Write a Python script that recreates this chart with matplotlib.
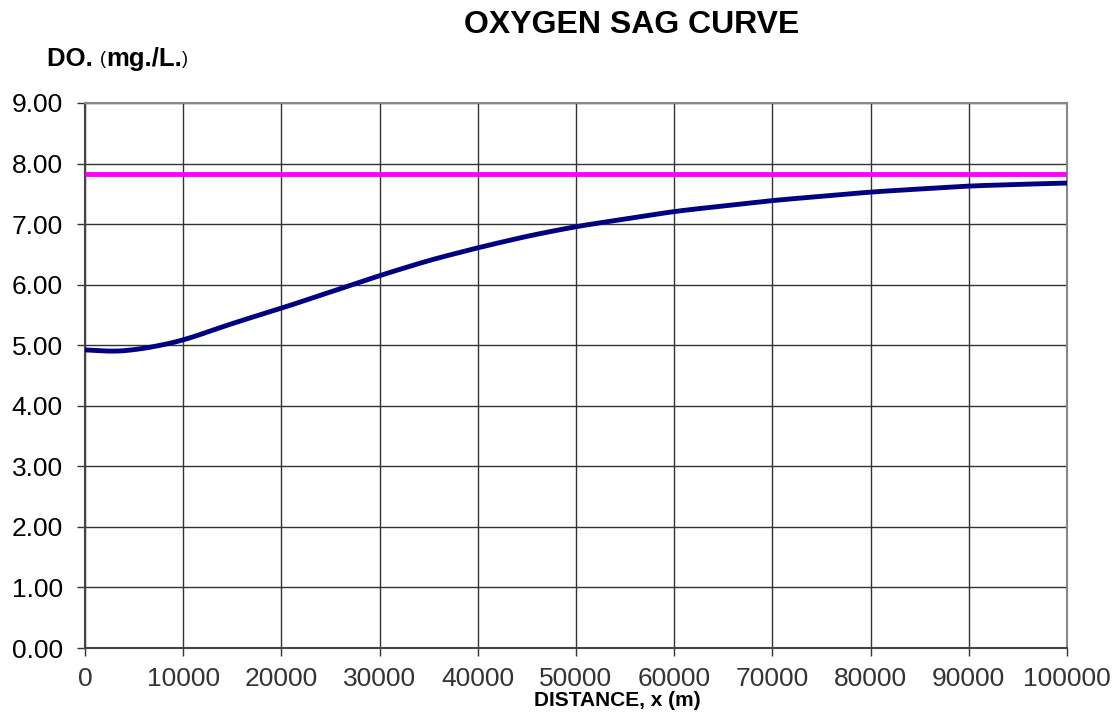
import matplotlib
matplotlib.use("Agg")
import matplotlib.pyplot as plt
import numpy as np

plt.rcParams['font.family'] = ['Liberation Sans', 'DejaVu Sans']

distance = [0, 2500, 5000, 7500, 10000, 15000, 20000, 25000, 30000, 35000,
            40000, 45000, 50000, 60000, 70000, 80000, 90000, 100000]
do_curve = [4.93, 4.89, 4.92, 4.99, 5.08, 5.36, 5.61, 5.88, 6.15, 6.40,
            6.61, 6.80, 6.96, 7.21, 7.39, 7.53, 7.63, 7.68]
do_sat = 7.83
x_ticks = list(range(0, 100001, 10000))
y_ticks = [i * 1.0 for i in range(10)]

fig = plt.figure(figsize=(11.18, 7.15), dpi=100)
ax = fig.add_axes([85 / 1118, 67 / 715, 982 / 1118, 545 / 715])

# smooth the read points a bit for drawing
xs = np.linspace(0, 100000, 400)
ys = np.interp(xs, distance, do_curve)
k = np.ones(15) / 15
ys_s = np.convolve(np.pad(ys, 7, mode='edge'), k, mode='valid')

ax.plot([0, 100000], [do_sat, do_sat], color='#ff00ff', lw=3.5, solid_capstyle='butt', zorder=3)
ax.plot(xs, ys_s, color='#000080', lw=3.5, zorder=4)

ax.set_xlim(0, 100000)
ax.set_ylim(0, 9)
ax.set_xticks(x_ticks)
ax.set_yticks(y_ticks)
ax.set_xticklabels([str(v) for v in x_ticks], color='#333333')
ax.set_yticklabels(['%.2f' % v for v in y_ticks], color='black')
ax.tick_params(axis='both', labelsize=19, direction='out', length=6, width=1, color='#333333')
ax.tick_params(axis='x', pad=8)
ax.tick_params(axis='y', pad=10)
ax.grid(True, color='#333333', lw=1)
for s in ['top', 'right']:
    ax.spines[s].set_color('#888888')
    ax.spines[s].set_linewidth(1.5)
for s in ['left', 'bottom']:
    ax.spines[s].set_color('#444444')
    ax.spines[s].set_linewidth(1.5)

fig.text(632 / 1118, 1 - 25 / 715, 'OXYGEN SAG CURVE', fontsize=23, fontweight='bold',
         ha='center', va='center')
t = fig.text(47 / 1118, 1 - 59 / 715, 'DO. ', fontsize=18.5, fontweight='bold', ha='left', va='center')
fig.canvas.draw()
bb = t.get_window_extent()
t2 = fig.text(bb.x1 / 1118, 1 - 59 / 715, '(', fontsize=13, ha='left', va='center')
fig.canvas.draw()
bb2 = t2.get_window_extent()
t3 = fig.text(bb2.x1 / 1118, 1 - 59 / 715, 'mg./L.', fontsize=18.5, fontweight='bold', ha='left', va='center')
fig.canvas.draw()
bb3 = t3.get_window_extent()
fig.text(bb3.x1 / 1118, 1 - 59 / 715, ')', fontsize=13, ha='left', va='center')

fig.text(617 / 1118, 1 - 701 / 715, 'DISTANCE, x (m)', fontsize=15, fontweight='bold',
         ha='center', va='center')

fig.savefig('out.png', dpi=100)
